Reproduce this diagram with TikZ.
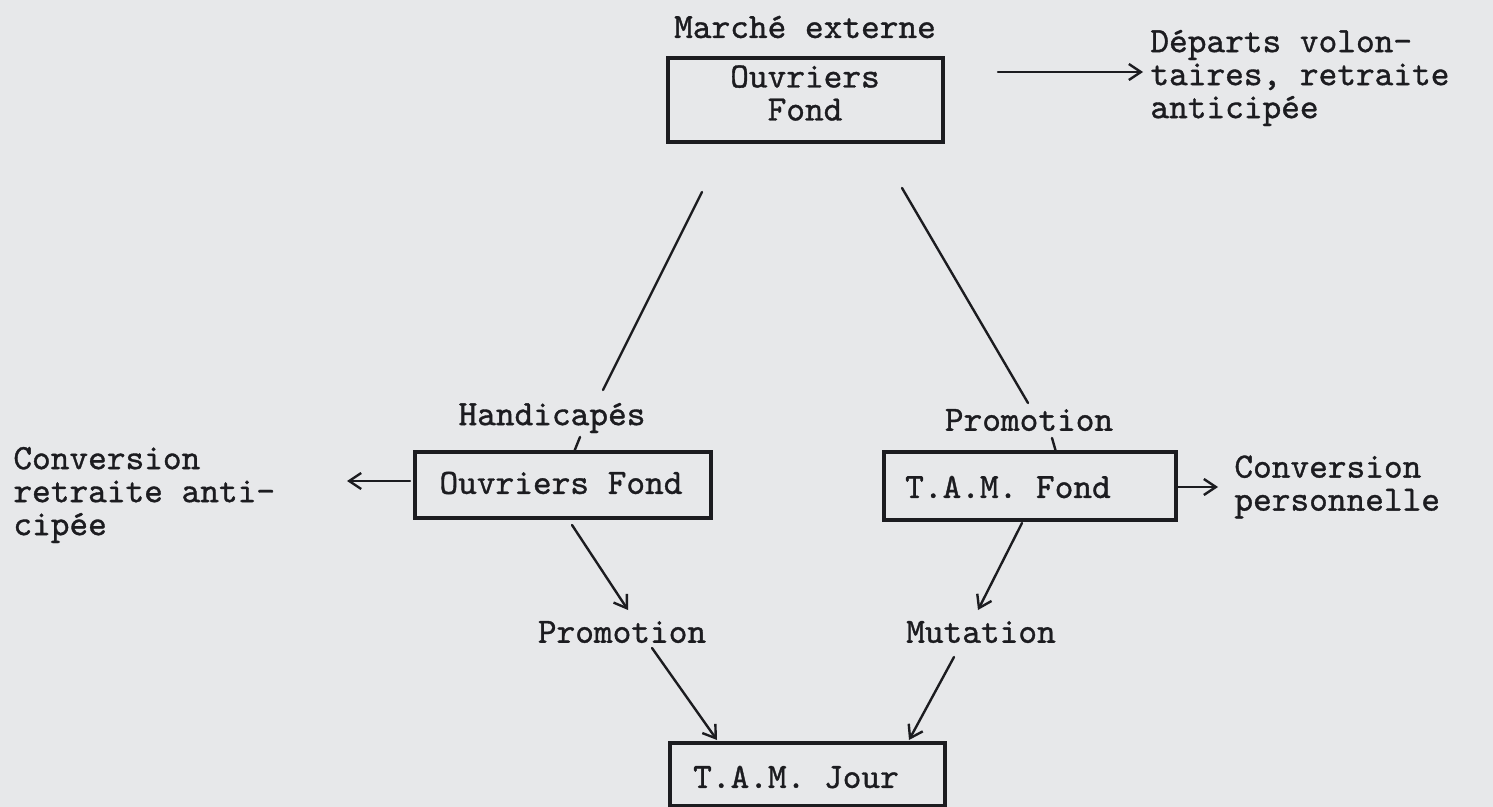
\documentclass[tikz,border=0pt]{standalone}
\usepackage{fontspec}
\newfontfamily\tw{lmmono10-regular.otf}[AutoFakeBold=1.0]
\usetikzlibrary{arrows.meta}
\definecolor{paper}{RGB}{231,232,234}
\definecolor{ink}{RGB}{28,28,32}
\tikzset{
  box/.style={draw=ink, line width=1.6pt, inner sep=0pt},
  txt/.style={text=ink, font=\tw\bfseries\fontsize{17.8}{16.5}\selectfont, inner sep=0pt, align=left},
  conn/.style={draw=ink, line width=1.2pt, line cap=round},
  arr/.style={conn, -{Straight Barb[length=6pt,width=8pt,line width=1.2pt]}},
}
\begin{document}
\begin{tikzpicture}[x=0.5pt,y=-0.5pt]
\path[fill=paper] (0,0) rectangle (1493,807);
\useasboundingbox (0,0) rectangle (1493,807);

% boxes
\node[box, minimum width=137.5pt, minimum height=42pt] (top) at (805.5,100) {};
\node[box, minimum width=148pt, minimum height=33pt] (ouv) at (563,485) {};
\node[box, minimum width=146pt, minimum height=34pt] (tamf) at (1030,486) {};
\node[box, minimum width=137.5pt, minimum height=31.5pt] (tamj) at (807.5,774.5) {};

% texts
\node[txt] (mext) at (805,27) {Marché externe};
\node[txt, align=center] (toptxt) at (805,93) {Ouvriers\\Fond};
\node[txt, anchor=west] (dep) at (1150,78) {Départs volon-\\taires, retraite\\anticipée};
\node[txt] (handi) at (552,418) {Handicapés};
\node[txt] (promu) at (1029,420) {Promotion};
\node[txt, anchor=west] (convl) at (13,495) {Conversion\\retraite anti-\\cipée};
\node[txt] (ouvtxt) at (561,483) {Ouvriers Fond};
\node[txt] (tamftxt) at (1008,487) {T.A.M. Fond};
\node[txt, anchor=west] (convr) at (1234,487) {Conversion\\personnelle};
\node[txt] (promd) at (622,632) {Promotion};
\node[txt] (mut) at (981,632) {Mutation};
\node[txt] (tamjtxt) at (796,777) {T.A.M. Jour};

% connector end points
\coordinate (t1) at (998,72);   \coordinate (t2) at (1143,72);
\coordinate (l1) at (702,192);  \coordinate (l2) at (603,390);
\coordinate (l3) at (580,437);  \coordinate (l4) at (574,452);
\coordinate (r1) at (902,188);  \coordinate (r2) at (1028,403);
\coordinate (r3) at (1052,438); \coordinate (r4) at (1056,452);
\coordinate (cl1) at (410,481); \coordinate (cl2) at (347,481);
\coordinate (cr1) at (1176,487);\coordinate (cr2) at (1218,487);
\coordinate (d1) at (572,525);  \coordinate (d2) at (628,610);
\coordinate (e1) at (1022,523); \coordinate (e2) at (978,610);
\coordinate (f1) at (652,648);  \coordinate (f2) at (717,740);
\coordinate (g1) at (954,657);  \coordinate (g2) at (909,740);

% connectors
\draw[arr] (t1) -- (t2);
\draw[conn] (l1) -- (l2);
\draw[conn] (l3) -- (l4);
\draw[conn] (r1) -- (r2);
\draw[conn] (r3) -- (r4);
\draw[arr] (cl1) -- (cl2);
\draw[arr] (cr1) -- (cr2);
\draw[arr] (d1) -- (d2);
\draw[arr] (e1) -- (e2);
\draw[arr] (f1) -- (f2);
\draw[arr] (g1) -- (g2);
\end{tikzpicture}
\end{document}
